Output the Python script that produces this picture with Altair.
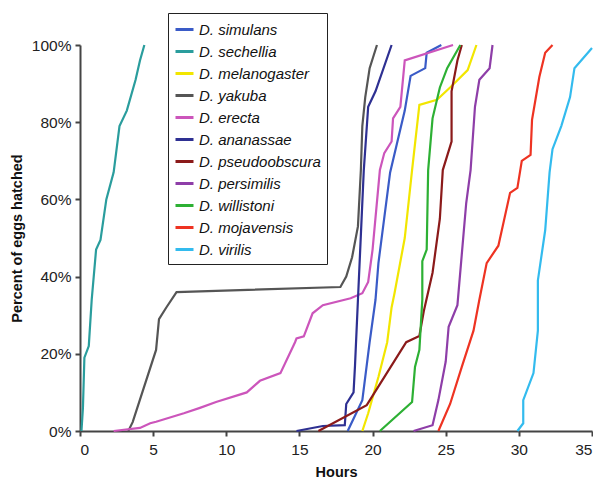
import altair as alt
import pandas as pd

species = ["D. simulans", "D. sechellia", "D. melanogaster", "D. yakuba", "D. erecta",
           "D. ananassae", "D. pseudoobscura", "D. persimilis", "D. willistoni",
           "D. mojavensis", "D. virilis"]
colors = ["#3a5bc7", "#2a9d9d", "#f2e600", "#555555", "#cc55bb", "#2e3092",
          "#8b1a1a", "#8e3ea8", "#2db034", "#ee3322", "#33bbee"]

simulans_h = [18.3, 19.3, 19.8, 20.2, 20.4, 21.2, 21.7, 22.2, 22.6, 23.6, 23.7, 24.7]
simulans_p = [0, 8, 23, 34, 43.5, 67, 75, 83, 92, 94, 98, 100]
sechellia_h = [0.1, 0.2, 0.3, 0.6, 0.8, 1.1, 1.4, 1.8, 2.3, 2.7, 3.2, 3.8, 4.1, 4.4]
sechellia_p = [0, 6, 19, 22, 34, 47, 49.5, 60, 67, 79, 83, 91, 96, 100]
melanogaster_h = [19.3, 19.7, 20.4, 21.0, 21.3, 21.5, 22.2, 22.7, 23.2, 24.4, 25.3, 26.5, 27.1]
melanogaster_p = [0, 4.6, 14, 23, 32, 35.7, 50, 67.6, 84.5, 85.8, 89, 93.5, 100]
yakuba_h = [3.3, 3.6, 5.2, 5.4, 5.9, 6.6, 17.8, 18.2, 18.6, 19.0, 19.2, 19.3, 19.5, 19.8, 20.3]
yakuba_p = [0, 2.3, 21, 29, 32, 36, 37.3, 40, 45, 53, 67.6, 79, 86.5, 94, 100]
erecta_h = [2.3, 4.1, 4.8, 5.2, 7.1, 8.2, 9.3, 11.4, 12.3, 13.7, 14.7, 14.8, 15.3, 15.9,
            16.6, 18.5, 19.3, 19.7, 20.0, 20.5, 20.8, 21.3, 21.4, 21.9, 22.2, 25.5]
erecta_p = [0, 0.8, 2, 2.4, 4.6, 6, 7.5, 10, 13, 15, 23, 24, 24.5, 30.5,
            32.6, 34.4, 35.7, 38.6, 47, 67.6, 72, 75, 81, 84, 96, 100]
ananassae_h = [14.8, 16.6, 18.1, 18.2, 18.7, 18.8, 19.0, 19.4, 19.7, 20.2, 21.3]
ananassae_p = [0, 1.3, 1.5, 7, 10, 17, 34, 67.6, 84, 88, 100]
pseudoobscura_h = [16.3, 19.6, 22.3, 23.2, 23.5, 24.1, 24.6, 24.8, 25.4, 25.4, 25.8, 26.1]
pseudoobscura_p = [0, 6.7, 23, 24.6, 31, 41, 55, 67.6, 75, 88, 96, 100]
persimilis_h = [22.8, 24.1, 24.5, 25.0, 25.2, 25.8, 26.4, 26.7, 27.0, 27.3, 28.0, 28.2]
persimilis_p = [0, 1.5, 8, 18, 27, 32.6, 59, 67.6, 84, 91, 94, 100]
willistoni_h = [20.5, 22.7, 22.9, 23.2, 23.4, 23.4, 23.7, 23.8, 24.1, 24.6, 25.1, 26.0]
willistoni_p = [0, 7.5, 16.6, 21, 34, 44, 47, 67.6, 81, 89, 94, 100]
mojavensis_h = [24.5, 25.3, 26.1, 26.9, 27.3, 27.8, 28.6, 29.4, 29.9, 30.2, 30.8, 30.9, 31.4, 31.8, 32.3]
mojavensis_p = [0, 7, 16.6, 26, 34, 43.5, 48, 61.7, 63, 70, 71.5, 80.6, 91.7, 98, 100]
virilis_h = [29.9, 30.3, 30.3, 31.0, 31.3, 31.3, 31.8, 32.1, 32.3, 32.9, 33.5, 33.8, 35.0]
virilis_p = [0, 2, 8, 15, 26, 39, 52, 67, 73, 79, 86.5, 94, 99.2]

series = [
    (simulans_h, simulans_p), (sechellia_h, sechellia_p), (melanogaster_h, melanogaster_p),
    (yakuba_h, yakuba_p), (erecta_h, erecta_p), (ananassae_h, ananassae_p),
    (pseudoobscura_h, pseudoobscura_p), (persimilis_h, persimilis_p),
    (willistoni_h, willistoni_p), (mojavensis_h, mojavensis_p), (virilis_h, virilis_p),
]

rows = []
for name, (hs, ps) in zip(species, series):
    for i, (h, p) in enumerate(zip(hs, ps)):
        rows.append({"species": name, "hours": h, "pct": p, "idx": i})
df = pd.DataFrame(rows)

font = "Liberation Sans"

chart = alt.Chart(df).mark_line(strokeWidth=2.2).encode(
    x=alt.X("hours:Q", scale=alt.Scale(domain=[0, 35], nice=False),
            axis=alt.Axis(title="Hours", values=[0, 5, 10, 15, 20, 25, 30, 35], grid=False)),
    y=alt.Y("pct:Q", scale=alt.Scale(domain=[0, 100], nice=False),
            axis=alt.Axis(title="Percent of eggs hatched", values=[0, 20, 40, 60, 80, 100],
                          labelExpr="datum.value + '%'", grid=False, titleX=-56)),
    color=alt.Color("species:N", scale=alt.Scale(domain=species, range=colors),
                    legend=alt.Legend(title=None, orient="none", legendX=88, legendY=-32,
                                      symbolType="stroke", symbolSize=324, symbolStrokeWidth=3,
                                      labelFontSize=15, labelFontStyle="italic", labelFont=font,
                                      labelColor="#111", rowPadding=3, padding=6, labelOffset=4,
                                      strokeColor="#222", fillColor="white",
                                      labelLimit=300)),
    order="idx:Q",
    detail="species:N",
).properties(
    width=512, height=386,
    autosize=alt.AutoSizeParams(type="none"),
    padding={"left": 72, "top": 37, "right": 1, "bottom": 58},
).configure_view(stroke=None).configure_axis(
    domainColor="#444", domainWidth=2, tickColor="#444", tickWidth=2, tickSize=5,
    labelFont=font, labelFontSize=15.5, labelColor="#222",
    titleFont=font, titleFontSize=14.5, titleFontWeight="bold", titleColor="#111",
).configure_axisY(labelPadding=4).configure_axisX(titlePadding=8, labelPadding=6)

chart.save("out.html", embed_options={"renderer": "svg", "actions": False})
